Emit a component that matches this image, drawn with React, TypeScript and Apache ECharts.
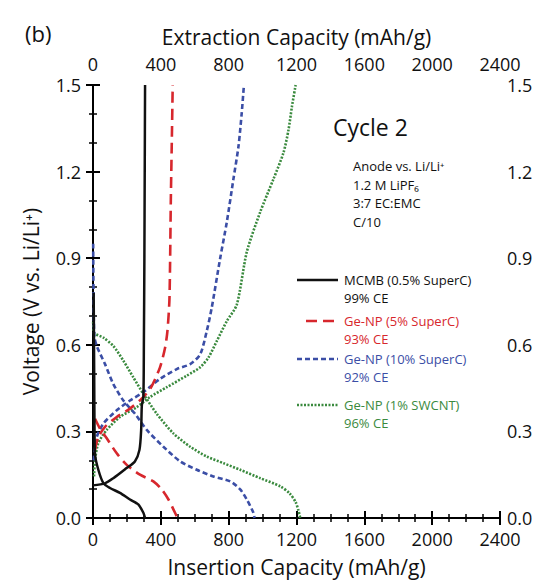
import React, { useEffect, useRef } from "react";
import * as echarts from "echarts";

// Capacity (mAh/g), Voltage (V) pairs
const mcmbInsertion: number[][] = [
  [4, 0.78], [7, 0.5], [9, 0.3], [12, 0.22], [31, 0.168], [61, 0.121], [100, 0.104],
  [159, 0.087], [218, 0.064], [267, 0.047], [297, 0.018], [307, 0.0],
];
const mcmbExtraction: number[][] = [
  [0, 0.113], [70, 0.12], [120, 0.138], [198, 0.173], [247, 0.196], [274, 0.236],
  [284, 0.305], [288, 0.39], [297, 0.42], [300, 0.6], [303, 0.9], [305, 1.2], [307, 1.5],
];
const ge5Insertion: number[][] = [
  [12, 0.344], [41, 0.31], [81, 0.276], [140, 0.224], [199, 0.184], [277, 0.15],
  [356, 0.127], [405, 0.099], [445, 0.064], [474, 0.03], [498, 0.0],
];
const ge5Extraction: number[][] = [
  [12, 0.236], [31, 0.28], [71, 0.316], [140, 0.35], [218, 0.379], [287, 0.413],
  [340, 0.45], [395, 0.522], [425, 0.59], [439, 0.648], [451, 0.762], [459, 1.105],
  [466, 1.35], [470, 1.5],
];
const ge10Insertion: number[][] = [
  [1, 0.95], [3, 0.78], [8, 0.63], [22, 0.596], [71, 0.533], [120, 0.464], [179, 0.407],
  [248, 0.361], [317, 0.305], [415, 0.247], [514, 0.196], [612, 0.167], [710, 0.144],
  [809, 0.127], [868, 0.099], [907, 0.064], [946, 0.018], [952, 0.0],
];
const ge10Extraction: number[][] = [
  [4, 0.2], [22, 0.28], [61, 0.327], [140, 0.373], [218, 0.407], [297, 0.436],
  [395, 0.482], [494, 0.516], [573, 0.533], [632, 0.567], [671, 0.648], [700, 0.728],
  [750, 0.9], [789, 1.025], [828, 1.174], [858, 1.288], [877, 1.403], [890, 1.5],
];
const swcntInsertion: number[][] = [
  [1, 0.68], [6, 0.642], [61, 0.625], [120, 0.596], [179, 0.545], [238, 0.487],
  [297, 0.43], [376, 0.361], [474, 0.293], [573, 0.247], [671, 0.213], [769, 0.19],
  [868, 0.167], [986, 0.138], [1104, 0.11], [1160, 0.085], [1195, 0.055],
  [1212, 0.025], [1222, 0.0],
];
const swcntExtraction: number[][] = [
  [6, 0.144], [12, 0.2], [31, 0.259], [81, 0.305], [159, 0.35], [258, 0.384],
  [336, 0.419], [435, 0.453], [553, 0.493], [632, 0.522], [681, 0.556], [730, 0.613],
  [789, 0.682], [848, 0.739], [907, 0.922], [986, 1.06], [1064, 1.174], [1123, 1.265],
  [1153, 1.345], [1173, 1.425], [1195, 1.5],
];

const seriesNames = [
  "MCMB (0.5% SuperC)",
  "Ge-NP (5% SuperC)",
  "Ge-NP (10% SuperC)",
  "Ge-NP (1% SWCNT)",
];
const ceLabels = ["99% CE", "93% CE", "92% CE", "96% CE"];
const colors = ["#111111", "#d7272d", "#3b4ea6", "#3a8a3e"];
const dashes: any[] = ["solid", [11, 6], [5, 3], [2, 1.5]];

const capTicksMax = 2400;
const voltMax = 1.5;
const FONT = "'Open Sans', 'Noto Sans', sans-serif";

export default function App() {
  const ref = useRef<HTMLDivElement>(null);
  useEffect(() => {
    if (!ref.current) return;
    const chart = echarts.init(ref.current, null, { renderer: "svg" });
    const axisLine = { show: true, lineStyle: { color: "#000", width: 2 } };
    const nameStyle = { fontSize: 21, color: "#111", fontFamily: FONT };
    const xAxisBase = {
      type: "value",
      min: 0,
      max: capTicksMax,
      interval: 400,
      nameLocation: "middle",
      nameTextStyle: nameStyle,
      axisLine,
      axisTick: { show: true, length: 7, lineStyle: { color: "#000", width: 2 } },
      minorTick: { show: true, splitNumber: 4, length: 4, lineStyle: { color: "#000", width: 1.5 } },
      splitLine: { show: false },
    };
    const yAxisBase = {
      type: "value",
      min: 0,
      max: voltMax,
      interval: 0.3,
      axisLine,
      axisTick: { show: true, length: 7, lineStyle: { color: "#000", width: 2 } },
      minorTick: { show: true, splitNumber: 3, length: 4, lineStyle: { color: "#000", width: 1.5 } },
      splitLine: { show: false },
    };
    const xLabel = (margin: number) => ({
      fontSize: 18, color: "#111", fontFamily: FONT, margin,
      formatter: (v: number) => String(v),
    });
    const yLabel = (margin: number) => ({
      fontSize: 18, color: "#111", fontFamily: FONT, margin,
      formatter: (v: number) => v.toFixed(1),
    });
    const curves = [
      [mcmbInsertion, mcmbExtraction],
      [ge5Insertion, ge5Extraction],
      [ge10Insertion, ge10Extraction],
      [swcntInsertion, swcntExtraction],
    ];
    const series: any[] = [];
    curves.forEach((pair, i) => {
      pair.forEach((data, j) => {
        series.push({
          type: "line",
          name: seriesNames[i],
          xAxisIndex: j,
          yAxisIndex: 0,
          data,
          showSymbol: false,
          smooth: 0.25,
          lineStyle: { color: colors[i], width: i === 0 ? 2.5 : 2.6, type: dashes[i] },
          z: 10 - i,
        });
      });
    });

    const legendGraphics: any[] = [];
    const legendY = [280, 321, 359, 405];
    legendY.forEach((y, i) => {
      const x1 = i === 1 ? 306 : 297;
      legendGraphics.push({
        type: "line",
        shape: { x1, y1: y, x2: 338, y2: y },
        style: { stroke: colors[i], lineWidth: 2.5, lineDash: dashes[i] === "solid" ? null : dashes[i] },
      });
      legendGraphics.push({
        type: "text",
        x: 344,
        y,
        style: {
          text: seriesNames[i],
          fill: i === 0 ? "#111" : colors[i],
          font: `13px ${FONT}`,
          textVerticalAlign: "middle",
        },
      });
      legendGraphics.push({
        type: "text",
        x: 344,
        y: y + 18,
        style: {
          text: ceLabels[i],
          fill: i === 0 ? "#111" : colors[i],
          font: `13px ${FONT}`,
          textVerticalAlign: "middle",
        },
      });
    });

    const noteLines = ["Anode vs. Li/Li⁺", "1.2 M LiPF₆", "3:7 EC:EMC", "C/10"];
    const noteGraphics = noteLines.map((t, k) => ({
      type: "text",
      x: 353,
      y: 166 + k * 18.5,
      style: { text: t, fill: "#111", font: `13px ${FONT}`, textVerticalAlign: "middle" },
    }));

    chart.setOption({
      animation: false,
      backgroundColor: "#fff",
      title: {
        text: "(b)",
        left: 20,
        top: 17,
        textStyle: { fontSize: 22, fontWeight: "normal", color: "#111", fontFamily: FONT },
      },
      grid: { left: 93, right: 48, top: 85, bottom: 60, containLabel: false },
      xAxis: [
        {
          ...xAxisBase, position: "bottom", name: "Insertion Capacity (mAh/g)", nameGap: 38,
          axisLabel: xLabel(12),
        },
        {
          ...xAxisBase, position: "top", name: "Extraction Capacity (mAh/g)", nameGap: 38,
          axisLabel: xLabel(12),
        },
      ],
      yAxis: [
        {
          ...yAxisBase,
          position: "left",
          name: "Voltage (V vs. Li/Li⁺)",
          nameLocation: "middle",
          nameGap: 52,
          nameTextStyle: nameStyle,
          axisLabel: yLabel(12),
        },
        { ...yAxisBase, position: "right", axisLabel: yLabel(7) },
      ],
      series,
      graphic: [
        {
          type: "text",
          x: 333,
          y: 127,
          style: { text: "Cycle 2", fill: "#111", font: `23px ${FONT}`, textVerticalAlign: "middle" },
        },
        ...noteGraphics,
        ...legendGraphics,
      ],
    });
    return () => chart.dispose();
  }, []);
  return (
    <div
      ref={ref}
      style={{ width: 548, height: 582, position: "absolute", left: 0, top: 0 }}
    />
  );
}
